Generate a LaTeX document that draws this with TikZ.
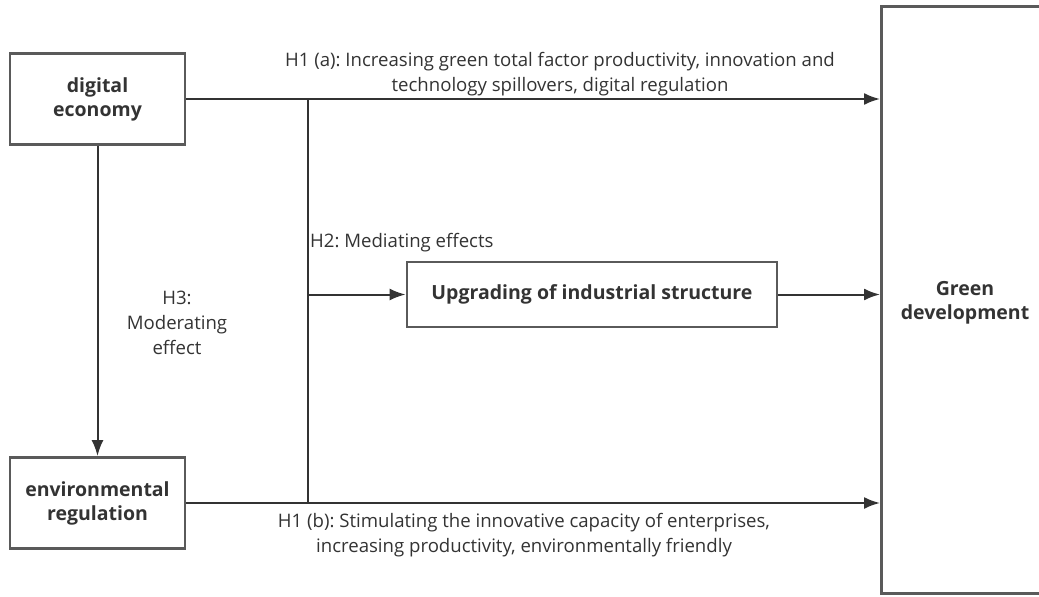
\documentclass[tikz,border=0pt]{standalone}
\usepackage{fontspec}
\setmainfont{Open Sans}
\usetikzlibrary{arrows.meta}
\definecolor{ink}{HTML}{333333}
\definecolor{frame}{HTML}{5A5A5A}
\frenchspacing
\begin{document}
\begin{tikzpicture}[x=1pt,y=-1pt,
  box/.style={draw=frame, line width=2.8pt, align=center, inner sep=0pt,
    text=ink, font=\fontsize{19.5}{24}\selectfont\bfseries},
  link/.style={draw=ink, line width=2pt},
  arr/.style={link, -{Latex[length=16pt,width=12pt]}},
  note/.style={text=ink, align=center, inner sep=0pt,
    font=\fontsize{18.6}{25}\selectfont}]
\useasboundingbox (0,0) rectangle (1039,597);

% boxes
\node[box, minimum width=175pt, minimum height=91pt] (de) at (97.5,99) {digital\\economy};
\node[box, minimum width=175pt, minimum height=91pt] (er) at (97.5,503) {environmental\\regulation};
\node[box, minimum width=370pt, minimum height=65pt] (up) at (592,294.5) {Upgrading of industrial structure};
\node[box, minimum width=170pt, minimum height=587pt, anchor=north west] (gd) at (880,5) {};
\node[box, draw=none] (gdt) at (965,303) {Green\\development};

% junction points on the vertical bus
\coordinate (ja) at (308,99);
\coordinate (jm) at (308,294.5);
\coordinate (jb) at (308,503);

% connectors
\draw[link] (de.east) -- (ja);
\draw[arr] (ja) -- (ja -| gd.west);
\draw[link] (ja) -- (jb);
\draw[arr] (jm) -- (up.west);
\draw[arr] (up.east) -- (up.east -| gd.west);
\draw[link] (er.east) -- (jb);
\draw[arr] (jb) -- (jb -| gd.west);
\draw[arr] (de.south) -- (er.north);

% labels
\node[note] (la) at (560,74) {H1 (a): Increasing green total factor productivity, innovation and\\technology spillovers, digital regulation};
\node[note, anchor=west] (lm) at (310,243) {H2: Mediating effects};
\node[note] (lh) at (177,323) {H3:\\Moderating\\effect};
\node[note] (lb) at (524,535) {H1 (b): Stimulating the innovative capacity of enterprises,\\increasing productivity, environmentally friendly};
\end{tikzpicture}
\end{document}
